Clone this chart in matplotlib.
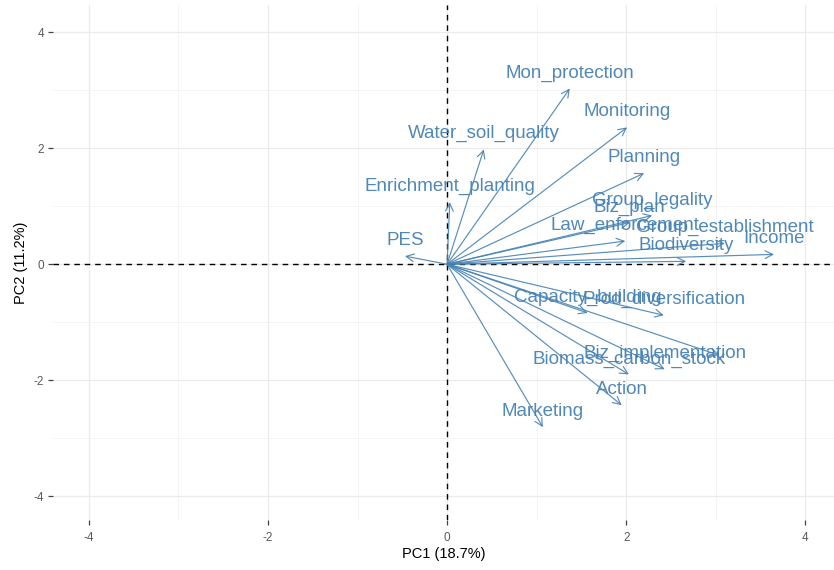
import matplotlib
matplotlib.use("Agg")
import matplotlib.pyplot as plt
from matplotlib.ticker import MultipleLocator

plt.rcParams["font.family"] = ["Liberation Sans", "DejaVu Sans"]
plt.rcParams["axes.unicode_minus"] = False

# Variable loadings on the first two principal components
variables = [
    "Mon_protection", "Monitoring", "Water_soil_quality", "Planning",
    "Enrichment_planting", "PES", "Group_legality", "Biz_plan",
    "Law_enforcement", "Group_establishment", "Biodiversity", "Income",
    "Capacity_building", "Prod_diversification", "Biz_implementation",
    "Biomass_carbon_stock", "Action", "Marketing", "",
]
pc1 = [1.37, 2.01, 0.41, 2.20, 0.03, -0.47, 2.29, 2.04, 1.99, 3.10, 2.67,
       3.65, 1.57, 2.42, 2.43, 2.03, 1.95, 1.07, 3.04]
pc2 = [3.03, 2.36, 1.98, 1.57, 1.07, 0.14, 0.84, 0.72, 0.40, 0.36, 0.05,
       0.17, -0.84, -0.88, -1.81, -1.90, -2.43, -2.81, -1.57]

x_label = "PC1 (18.7%)"
y_label = "PC2 (11.2%)"
major_ticks = [-4, -2, 0, 2, 4]

W, H = 834, 570
fig = plt.figure(figsize=(W / 100, H / 100), dpi=100)
fig.patch.set_facecolor("white")
ax = fig.add_axes([53 / W, 1 - 520 / H, (W - 53) / W, (520 - 5) / H])
ax.set_facecolor("white")

ax.set_xlim(-4.40, 4.32)
ax.set_ylim(-4.41, 4.47)
ax.set_xticks(major_ticks)
ax.set_yticks(major_ticks)
ax.xaxis.set_minor_locator(MultipleLocator(1))
ax.yaxis.set_minor_locator(MultipleLocator(1))
ax.grid(which="major", color="#EBEBEB", lw=0.9, zorder=0)
ax.grid(which="minor", color="#F2F2F2", lw=0.6, zorder=0)
ax.tick_params(which="minor", length=0)
ax.tick_params(which="major", length=3.5, width=0.9, color="#444444",
               labelsize=8.5, labelcolor="#5A5A5A")
ax.tick_params(axis="x", pad=5)
ax.tick_params(axis="y", pad=3)
for s in ax.spines.values():
    s.set_visible(False)
ax.set_axisbelow(True)

# Reference lines through the origin
ax.axhline(0, color="black", lw=1.0, ls=(0, (4, 3.5)), zorder=1)
ax.axvline(0, color="black", lw=1.0, ls=(0, (4, 3.5)), zorder=1)

arrow_col = "#4682B4"
for name, x, y in zip(variables, pc1, pc2):
    ax.annotate("", xy=(x, y), xytext=(0, 0),
                arrowprops=dict(arrowstyle="->,head_length=0.55,head_width=0.28",
                                color=arrow_col, lw=0.85, alpha=0.9,
                                shrinkA=0, shrinkB=0), zorder=3)
    if name:
        ax.annotate(name, xy=(x, y), xytext=(0, 8), textcoords="offset points",
                    ha="center", va="baseline", fontsize=13.5,
                    color=arrow_col, alpha=0.95, zorder=4)

ax.set_xlabel(x_label, fontsize=10.5, color="black", labelpad=2)
ax.set_ylabel(y_label, fontsize=10.5, color="black", labelpad=4)

fig.savefig("out.png", dpi=100, facecolor="white")
